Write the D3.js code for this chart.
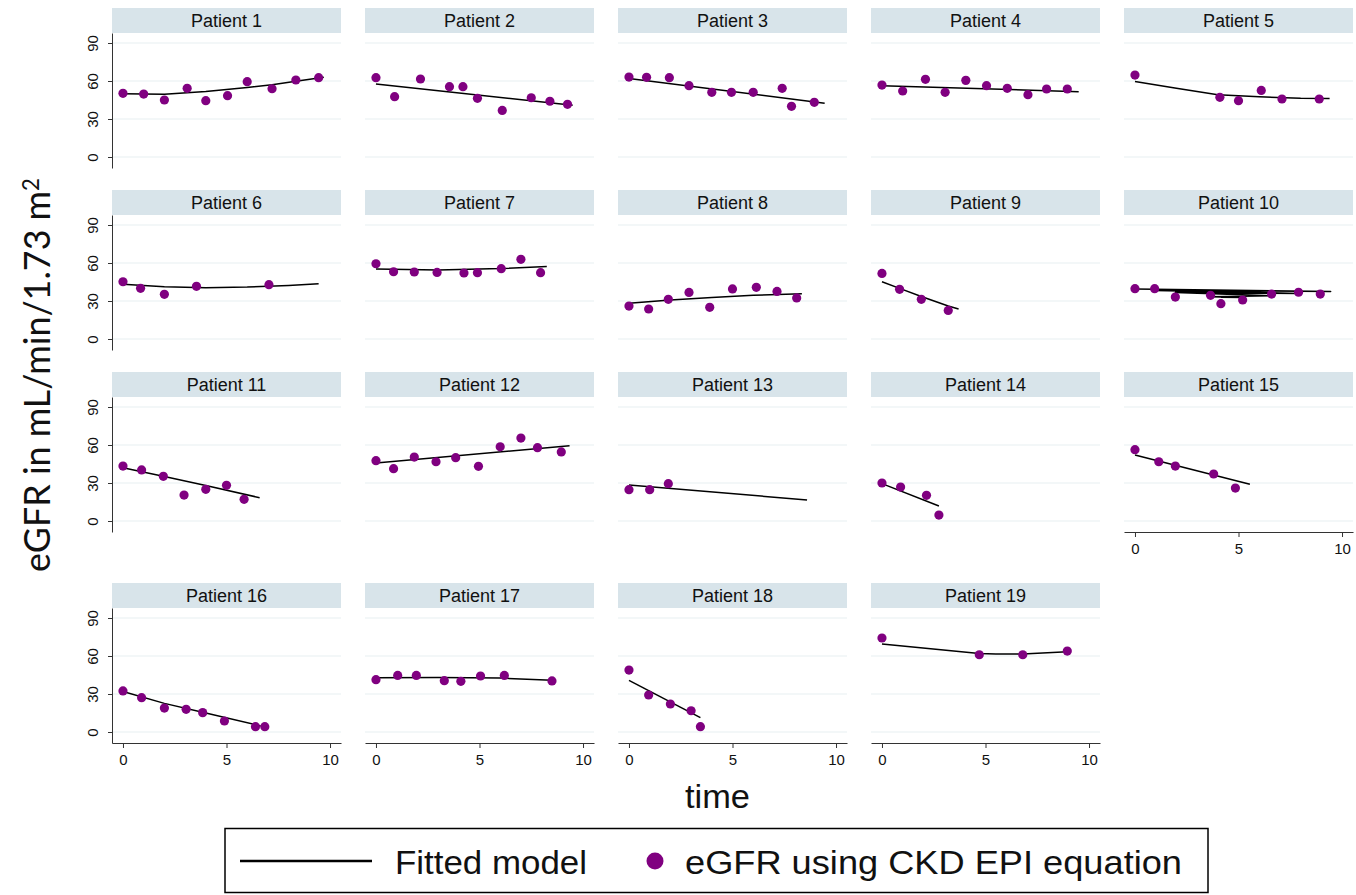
<!DOCTYPE html>
<html>
<head>
<meta charset="utf-8">
<script src="https://cdn.jsdelivr.net/npm/d3@7"></script>
<style>
  body { margin: 0; background: #fff; }
  svg { display: block; font-family: "Liberation Sans", Arial, sans-serif; }
</style>
</head>
<body>
<svg width="1356" height="895"></svg>
<script>
// eGFR over time per patient, dots = observed, line = fitted model
const patientNames = d3.range(1, 20).map(i => 'Patient ' + i);

const obsTime = [
  [0, 1, 2, 3.1, 4, 5.05, 6, 7.2, 8.35, 9.45],
  [0, 0.9, 2.15, 3.55, 4.2, 4.9, 6.1, 7.5, 8.4, 9.25],
  [0, 0.85, 1.95, 2.9, 4, 4.95, 6, 7.4, 7.85, 8.95],
  [0, 1, 2.1, 3.05, 4.05, 5.05, 6.05, 7.05, 7.95, 8.95],
  [0, 4.1, 5, 6.1, 7.1, 8.9],
  [0, 0.85, 2, 3.55, 7.05],
  [0, 0.85, 1.85, 2.95, 4.25, 4.9, 6.05, 7, 7.95],
  [0, 0.95, 1.9, 2.9, 3.9, 5, 6.15, 7.15, 8.1],
  [0, 0.85, 1.9, 3.2],
  [0, 0.95, 1.95, 3.65, 4.15, 5.2, 6.6, 7.9, 8.95],
  [0, 0.9, 1.95, 2.95, 4, 5, 5.85],
  [0, 0.85, 1.85, 2.9, 3.85, 4.95, 6, 7, 7.8, 8.95],
  [0, 1, 1.9],
  [0, 0.9, 2.15, 2.75],
  [0, 1.15, 1.95, 3.8, 4.85],
  [0, 0.9, 2, 3.05, 3.85, 4.9, 6.4, 6.85],
  [0, 1.05, 1.95, 3.3, 4.1, 5.05, 6.2, 8.5],
  [0, 0.95, 2, 3, 3.45],
  [0, 4.7, 6.8, 8.95]
];

const obsEgfr = [
  [50.3, 49.7, 45, 54.2, 44.5, 48.4, 59.5, 53.9, 60.8, 62.6],
  [62.6, 47.6, 61.6, 55.5, 55.5, 46.3, 36.8, 46.8, 44, 41.6],
  [63.1, 62.9, 62.6, 56.3, 51.1, 51.1, 51.1, 54.2, 40, 43.2],
  [56.8, 52.1, 61.3, 51.1, 60.5, 56.3, 54.2, 49.2, 53.7, 53.7],
  [64.7, 47.1, 44.5, 52.6, 45.8, 45.8],
  [45.2, 40, 35.3, 41.6, 42.9],
  [59.4, 53.1, 52.9, 52.6, 52.1, 52.4, 55.5, 62.9, 52.4],
  [26, 23.7, 31.3, 36.8, 25, 39.5, 40.8, 37.6, 32.4],
  [51.8, 39.2, 31.3, 22.6],
  [39.7, 39.7, 33.1, 34.5, 27.9, 30.8, 35.5, 36.9, 35.5],
  [43.4, 40.3, 35.3, 20.5, 25, 28.2, 17.1],
  [47.6, 41.3, 50.5, 46.8, 50, 43.2, 58.6, 65.5, 57.9, 54.5],
  [24.7, 24.7, 29.5],
  [30, 26.8, 20.3, 4.7],
  [56.3, 46.8, 43.4, 37.1, 26],
  [32.4, 27.1, 18.9, 17.9, 15.3, 8.7, 4.2, 4.2],
  [41.3, 44.7, 44.7, 40.5, 40, 44.2, 44.7, 40.3],
  [48.9, 29.2, 22.1, 16.8, 4.2],
  [74.2, 61, 61, 63.9]
];

// fitted model, drawn in the order given (patient 10 is unsorted like the original)
const fitTime = [
  [0, 2, 4, 6, 7.2, 8.35, 9.7],
  [0, 9.5],
  [0, 9.45],
  [0, 9.5],
  [0, 2, 4, 6, 8, 9.4],
  [0, 2, 4, 6, 8, 9.45],
  [0, 3, 6, 8.25],
  [0, 2, 4, 6, 8.35],
  [0, 0.85, 1.9, 3.2, 3.7],
  [0, 9.45, 0.95, 7.9, 1.95, 6.6, 3.65, 5.2, 4.15],
  [0, 2, 4, 6.6],
  [0, 9.35],
  [0, 8.6],
  [0, 2.75],
  [0, 5.55],
  [0, 2, 4, 6.65],
  [0, 3, 6, 8.5],
  [0, 3.45],
  [0, 4.7, 5.5, 6.8, 8.95]
];

const fitEgfr = [
  [50, 49.6, 51.8, 54.8, 57, 59.8, 63],
  [57.6, 40.8],
  [62, 42.4],
  [56.3, 51.6],
  [59.7, 54.2, 49.2, 47.6, 46.3, 46.1],
  [43.2, 41.3, 40.5, 41, 42.3, 43.6],
  [55.2, 54.5, 55.6, 57.3],
  [28.2, 30.7, 32.8, 34.5, 35.8],
  [45.2, 40, 33.5, 26, 23.7],
  [39.5, 37.6, 38.3, 36, 36.7, 34.2, 33.4, 32.8, 33],
  [42.1, 35.2, 28, 18.4],
  [45.8, 59.5],
  [28.4, 16.6],
  [29.5, 11.8],
  [52.1, 29],
  [32, 22.6, 15, 4.8],
  [42.9, 43.1, 42.6, 40.8],
  [40.8, 11.3],
  [69.5, 62, 61.5, 61.6, 63.4]
];

const yTicks = [0, 30, 60, 90];
const xTicks = [0, 5, 10];

const svg = d3.select('svg');

const panelW = 229;
const colLeft = c => 112 + 253 * c;
const rowTop = [0, 182, 364, 575];

const stripFill = '#d8e4ea';
const gridColor = '#e8f0f2';
const axisColor = '#333';
const dotColor = '#800080';

const line = d3.line();

patientNames.forEach((name, i) => {
  const c = i % 5, r = Math.floor(i / 5);
  const left = colLeft(c), top = rowTop[r];

  const x = d3.scaleLinear().domain([-0.53, 10.53]).range([left, left + panelW]);
  const y = d3.scaleLinear().domain([-8.68, 97.9]).range([top + 168, top + 33]);

  const g = svg.append('g');

  // strip header
  g.append('rect')
    .attr('x', left).attr('y', top + 8)
    .attr('width', panelW).attr('height', 25)
    .attr('fill', stripFill);
  g.append('text')
    .attr('x', left + panelW / 2).attr('y', top + 27)
    .attr('text-anchor', 'middle')
    .attr('font-size', 18)
    .attr('fill', '#111')
    .text(name);

  // gridlines
  g.selectAll('.grid')
    .data(yTicks)
    .join('line')
    .attr('class', 'grid')
    .attr('x1', left).attr('x2', left + panelW)
    .attr('y1', d => y(d)).attr('y2', d => y(d))
    .attr('stroke', gridColor)
    .attr('stroke-width', 1.2);

  // y axis on first column only
  if (c === 0) {
    const yAxisG = g.append('g')
      .attr('transform', `translate(${left},0)`)
      .call(d3.axisLeft(y).tickValues(yTicks).tickSize(4).tickSizeOuter(0));
    yAxisG.select('.domain').attr('stroke', axisColor);
    yAxisG.selectAll('.tick line').attr('stroke', axisColor);
    yAxisG.selectAll('.tick text')
      .attr('transform', 'rotate(-90)')
      .attr('x', 0).attr('y', -14).attr('dy', 0)
      .attr('text-anchor', 'middle')
      .attr('font-size', 15)
      .attr('font-family', '"Liberation Sans", Arial, sans-serif')
      .attr('fill', '#111');
  }

  // x axis for the bottom panel of each column
  if (i + 5 >= patientNames.length) {
    const xAxisG = g.append('g')
      .attr('transform', `translate(0,${top + 168})`)
      .call(d3.axisBottom(x).tickValues(xTicks).tickSize(5).tickSizeOuter(0).tickPadding(6));
    xAxisG.select('.domain').attr('stroke', axisColor).attr('stroke-width', 1.2);
    xAxisG.selectAll('.tick line').attr('stroke', axisColor);
    xAxisG.selectAll('.tick text')
      .attr('font-size', 15)
      .attr('font-family', '"Liberation Sans", Arial, sans-serif')
      .attr('fill', '#111');
  }

  // fitted model
  const fitPts = d3.zip(fitTime[i], fitEgfr[i]).map(d => [x(d[0]), y(d[1])]);
  g.append('path')
    .attr('d', line(fitPts))
    .attr('fill', 'none')
    .attr('stroke', '#000')
    .attr('stroke-width', 1.5)
    .attr('stroke-linejoin', 'round');

  // observed eGFR
  g.selectAll('circle')
    .data(d3.zip(obsTime[i], obsEgfr[i]))
    .join('circle')
    .attr('cx', d => x(d[0]))
    .attr('cy', d => y(d[1]))
    .attr('r', 4.6)
    .attr('fill', dotColor);
});

// y title
const yTitle = svg.append('text')
  .attr('transform', 'translate(50,375) rotate(-90)')
  .attr('text-anchor', 'middle')
  .attr('font-family', 'Lato, "Open Sans", sans-serif')
  .attr('font-size', 34)
  .attr('fill', '#111');
yTitle.append('tspan').text('eGFR in mL/min/1.73 m');
yTitle.append('tspan').attr('dy', '-0.5em').attr('font-size', '0.62em').text('2');
const yLen = yTitle.node().getComputedTextLength();
yTitle.attr('font-size', 34 * 394 / yLen);

// x title
svg.append('text')
  .attr('x', 685).attr('y', 808)
  .attr('font-size', 33)
  .attr('textLength', 65)
  .attr('lengthAdjust', 'spacingAndGlyphs')
  .attr('fill', '#111')
  .text('time');

// legend
const legend = svg.append('g');
legend.append('rect')
  .attr('x', 225).attr('y', 828.5)
  .attr('width', 983).attr('height', 64)
  .attr('fill', '#fff')
  .attr('stroke', '#000')
  .attr('stroke-width', 1.5);
legend.append('line')
  .attr('x1', 240).attr('x2', 372)
  .attr('y1', 861).attr('y2', 861)
  .attr('stroke', '#000')
  .attr('stroke-width', 2.6);
legend.append('text')
  .attr('x', 395).attr('y', 874)
  .attr('font-size', 33)
  .attr('textLength', 192)
  .attr('lengthAdjust', 'spacingAndGlyphs')
  .attr('fill', '#111')
  .text('Fitted model');
legend.append('circle')
  .attr('cx', 655).attr('cy', 861)
  .attr('r', 8.5)
  .attr('fill', dotColor);
legend.append('text')
  .attr('x', 685).attr('y', 874)
  .attr('font-size', 33)
  .attr('textLength', 497)
  .attr('lengthAdjust', 'spacingAndGlyphs')
  .attr('fill', '#111')
  .text('eGFR using CKD EPI equation');
</script>
</body>
</html>
